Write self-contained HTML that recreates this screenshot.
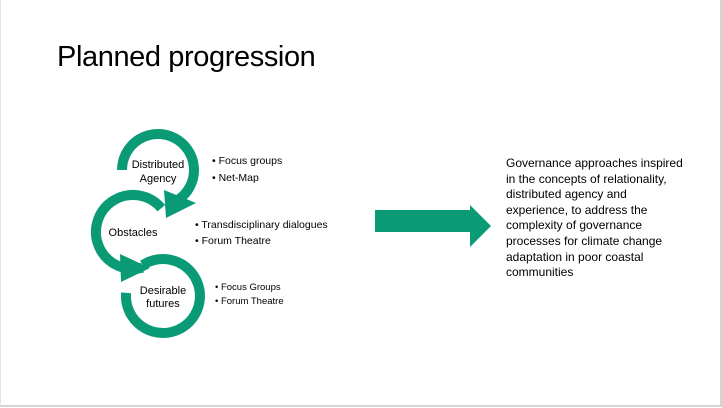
<!DOCTYPE html>
<html><head><meta charset="utf-8"><style>
html,body{margin:0;padding:0;background:#fff}
body{width:722px;height:408px;position:relative;overflow:hidden;font-family:"Liberation Sans",sans-serif;color:#000}
.frame{position:absolute;left:0;top:0;width:719px;height:405px;border-right:2px solid #d4d4d4;border-bottom:2px solid #d4d4d4;border-left:1px solid #e4e4e4}
.t{position:absolute;white-space:nowrap}
</style></head><body>
<div class="frame"></div>
<div class="t" style="left:57px;top:41px;font-size:29px;letter-spacing:-0.4px">Planned progression</div>
<svg width="722" height="408" style="position:absolute;left:0;top:0">
<g fill="none" stroke="#0a9b76" stroke-width="10">
<!-- circle1 center 158,170 r36: from 180deg clockwise to 55deg -->
<path d="M122,170 A36,36 0 1 1 178.6,199.5"/>
<!-- circle2 center 133,232 r37: from -40deg ccw to 75deg -->
<path d="M161.3,208.2 A37,37 0 1 0 142.6,267.7"/>
<!-- circle3 center 163,296 r37: from -123deg clockwise to 185deg -->
<path d="M142.8,265 A37,37 0 1 1 126.1,292.8"/>
</g>
<g fill="#0a9b76">
<polygon points="164,190 196,203 166,218"/>
<polygon points="120,254 150,268 121,282"/>
<polygon points="375,210 470,210 470,205 491,226 470,247 470,232 375,232"/>
</g>
<g font-family="Liberation Sans, sans-serif" font-size="11" fill="#000" text-anchor="middle">
<text x="158" y="168">Distributed</text>
<text x="158" y="182">Agency</text>
<text x="133" y="236">Obstacles</text>
<text x="163" y="294">Desirable</text>
<text x="163" y="307">futures</text>
</g>
<g font-family="Liberation Sans, sans-serif" font-size="10.5" fill="#000">
<text x="212" y="164">•  Focus groups</text>
<text x="212" y="181">•  Net-Map</text>
<text x="195" y="228">•  Transdisciplinary dialogues</text>
<text x="195" y="244">•  Forum Theatre</text>
<text x="215" y="290" font-size="9.5">• Focus Groups</text>
<text x="215" y="304" font-size="9.5">• Forum Theatre</text>
</g>
<g font-family="Liberation Sans, sans-serif" font-size="12" fill="#000">
<text x="506" y="167">Governance approaches inspired</text>
<text x="506" y="183">in the concepts of relationality,</text>
<text x="506" y="198">distributed agency and</text>
<text x="506" y="214">experience, to address the</text>
<text x="506" y="229">complexity of governance</text>
<text x="506" y="245">processes for climate change</text>
<text x="506" y="261">adaptation in poor coastal</text>
<text x="506" y="276">communities</text>
</g>
</svg>
</body></html>
